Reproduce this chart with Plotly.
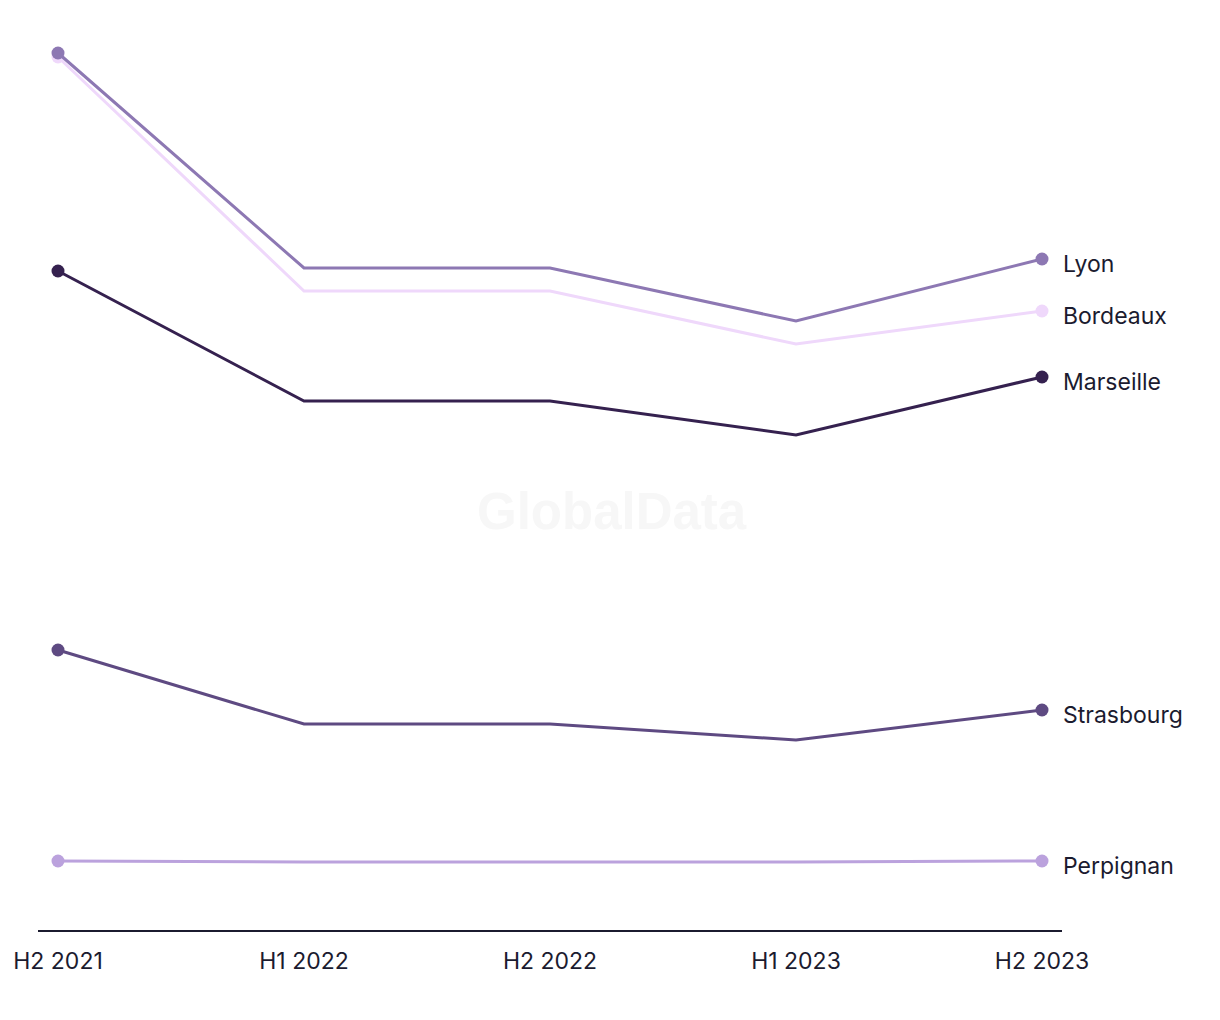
import plotly.graph_objects as go

periods = ["H2 2021", "H1 2022", "H2 2022", "H1 2023", "H2 2023"]
cities = ["Lyon", "Bordeaux", "Marseille", "Strasbourg", "Perpignan"]
lyon = [877, 662, 662, 609, 671]
bordeaux = [873, 639, 639, 586, 619]
marseille = [659, 529, 529, 495, 553]
strasbourg = [280, 206, 206, 190, 220]
perpignan = [69, 68, 68, 68, 69]
series = [lyon, bordeaux, marseille, strasbourg, perpignan]
colors = ["#8D78B3", "#EFD8FB", "#35214F", "#5E4A82", "#BBA2DD"]

text_color = "#1B1B2F"
font_family = "Inter, Roboto, sans-serif"

fig = go.Figure()
# draw Bordeaux first so Lyon sits on top
order = [1, 0, 2, 3, 4]
for i in order:
    fig.add_trace(go.Scatter(
        x=periods, y=series[i], name=cities[i], mode="lines",
        line=dict(color=colors[i], width=3), hoverinfo="skip", showlegend=False,
    ))
    fig.add_trace(go.Scatter(
        x=[periods[0], periods[-1]], y=[series[i][0], series[i][-1]], mode="markers",
        marker=dict(color=colors[i], size=13), showlegend=False,
    ))

for i, c in enumerate(cities):
    fig.add_annotation(
        x=periods[-1], y=series[i][-1], text=c, showarrow=False,
        xanchor="left", xshift=19, yshift=-5,
        font=dict(size=23, color=text_color, family=font_family),
    )

fig.add_annotation(
    x=0.5, y=0.5, xref="paper", yref="paper", yshift=-36, xshift=62,
    text="<b>GlobalData</b>", showarrow=False,
    font=dict(size=51, color="#F7F7F7", family="Liberation Sans, Arial, sans-serif"),
)

fig.update_layout(
    width=1220, height=1020,
    margin=dict(l=30, r=166, t=12, b=98),
    paper_bgcolor="white", plot_bgcolor="white",
    xaxis=dict(
        type="category", range=[-0.0813, 4.0813], showgrid=False, zeroline=False,
        showline=True, linecolor=text_color, linewidth=2, ticks="",
        tickfont=dict(size=23, color=text_color, family=font_family),
        ticklabelstandoff=9, automargin=False,
    ),
    yaxis=dict(range=[0, 910], visible=False, showgrid=False, zeroline=False,
               automargin=False),
)

fig.write_html("out.html")
